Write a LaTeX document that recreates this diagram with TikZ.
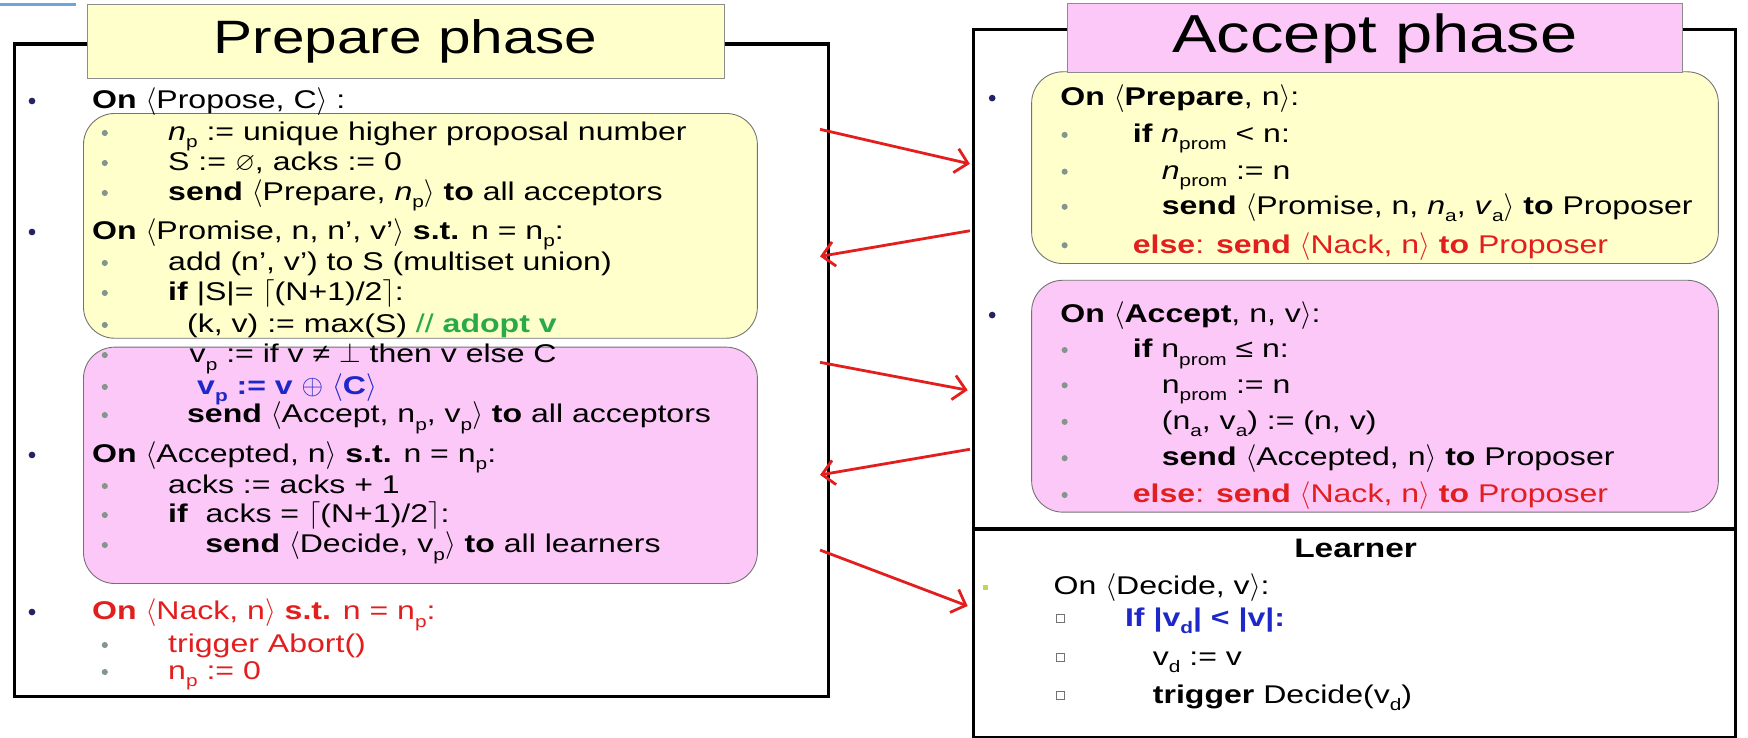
\documentclass[tikz,border=0pt]{standalone}
\usepackage{fontspec}
\setmainfont{Liberation Sans}[FakeStretch=1.25]
\usepackage{amssymb}
\usepackage{graphicx}
\usetikzlibrary{arrows.meta}
\definecolor{ylw}{RGB}{255,255,204}
\definecolor{pnk}{RGB}{252,200,248}
\definecolor{rd}{RGB}{226,30,30}
\definecolor{grn}{RGB}{40,170,70}
\definecolor{blu}{RGB}{30,40,200}
\definecolor{navy}{RGB}{35,35,100}
\definecolor{gbul}{RGB}{130,150,140}
\definecolor{topblue}{RGB}{110,165,220}
\newcommand{\la}{\smash{\ensuremath{\langle}}}
\newcommand{\ra}{\smash{\ensuremath{\rangle}}}
\newcommand{\lcl}{\smash{\ensuremath{\lceil}}}
\newcommand{\rcl}{\smash{\ensuremath{\rceil}}}
\newcommand{\lo}[1]{\smash{\raisebox{-0.28em}{\scalebox{0.65}{#1}}}}
\begin{document}
\begin{tikzpicture}[x=1pt,y=-1pt,
  outerbox/.style={draw=black,line width=3pt,anchor=north west,inner sep=0pt},
  titlebox/.style={draw=black!45,line width=0.8pt,inner sep=0pt,anchor=north west},
  rbox/.style={draw=black!55,line width=0.8pt,rounded corners=28pt,anchor=north west,inner sep=0pt},
  ltxt/.style={anchor=base west,inner sep=0pt,font=\fontsize{23}{26}\selectfont},
  rtxt/.style={anchor=base west,inner sep=0pt,font=\fontsize{23}{27}\selectfont},
  navybul/.style={circle,fill=navy,inner sep=0pt,minimum size=6pt},
  graybul/.style={circle,fill=gbul,inner sep=0pt,minimum size=5.5pt},
  sqbul/.style={draw=black!55,fill=white,inner sep=0pt,minimum size=7pt,line width=0.7pt},
  msg/.style={draw=rd,line width=2.5pt,-{Straight Barb[length=11pt,width=22pt]}}
]
\useasboundingbox (0,0) rectangle (1568,662);
\fill[white] (0,0) rectangle (1568,662);
\draw[topblue,line width=2.5pt] (0,4) -- (68,4);

% ---------- Left panel (Prepare phase) ----------
\node[outerbox,minimum width=729.9pt,minimum height=585pt] (prep) at (11.7,38) {};
\node[rbox,fill=ylw,minimum width=604.5pt,minimum height=201.6pt] (ly) at (74.5,101.4) {};
\node[rbox,fill=pnk,minimum width=604.5pt,minimum height=212pt] (lp) at (74.5,311) {};
\node[titlebox,fill=ylw,minimum width=571pt,minimum height=66pt,
      font=\fontsize{42}{46}\selectfont] (ptitle) at (78,4) {Prepare phase};

\node[ltxt] (l1) at (82.5,97.6) {\textbf{On} \la Propose, C\ra\ :};
\node[ltxt] (l2) at (150.7,126.3) {\textit{n}\lo{p} := unique higher proposal number};
\node[ltxt] (l3) at (150.7,153.2) {S := $\varnothing$, acks := 0};
\node[ltxt] (l4) at (150.7,180.1) {\textbf{send} \la Prepare, \textit{n}\lo{p}\ra\ \textbf{to} all acceptors};
\node[ltxt] (l5) at (82.5,215.1) {\textbf{On} \la Promise, n, n’, v’\ra\ \textbf{s.t.} n = n\lo{p}:};
\node[ltxt] (l6) at (150.7,242.9) {add (n’, v’) to S (multiset union)};
\node[ltxt] (l7) at (150.7,269.8) {\textbf{if} |S|= \lcl(N+1)/2\rcl:};
\node[ltxt] (l8) at (167.7,298.5) {(k, v) := max(S) \textcolor{grn}{// \textbf{adopt v}}};
\node[ltxt] (l9) at (170,325.5) {v\lo{p} := if v ≠ $\perp$ then v else C};
\node[ltxt,text=blu] (l10) at (176.7,354.1) {\textbf{v\lo{p} := v} $\oplus$ \la\textbf{C}\ra};
\node[ltxt] (l11) at (167.7,379.3) {\textbf{send} \la Accept, n\lo{p}, v\lo{p}\ra\ \textbf{to} all acceptors};
\node[ltxt] (l12) at (82.5,415.1) {\textbf{On} \la Accepted, n\ra\ \textbf{s.t.} n = n\lo{p}:};
\node[ltxt] (l13) at (150.7,443) {acks := acks + 1};
\node[ltxt] (l14) at (150.7,469) {\textbf{if}\ \ acks = \lcl(N+1)/2\rcl:};
\node[ltxt] (l15) at (184,495.9) {\textbf{send} \la Decide, v\lo{p}\ra\ \textbf{to} all learners};
\node[ltxt,text=rd] (l16) at (82.5,556) {\textbf{On} \la Nack, n\ra\ \textbf{s.t.} n = n\lo{p}:};
\node[ltxt,text=rd] (l17) at (150.7,585.6) {trigger Abort()};
\node[ltxt,text=rd] (l18) at (150.7,609.8) {n\lo{p} := 0};

\foreach \y/\n in {90.6/1,208.1/5,408.1/12,549/16}
  \node[navybul] (lnb\n) at (28.7,\y) {};
\foreach \y/\n in {119.3/2,146.2/3,173.1/4,235.9/6,262.8/7,291.5/8,318.5/9,347.1/10,372.3/11,436/13,462/14,488.9/15,578.6/17,602.8/18}
  \node[graybul] (lgb\n) at (94,\y) {};

% ---------- Right panel (Accept phase) ----------
\node[outerbox,minimum width=683pt,minimum height=448pt] (acc) at (872,25) {};
\node[outerbox,minimum width=683pt,minimum height=187pt] (learn) at (872,473) {};
\node[rbox,fill=ylw,minimum width=616pt,minimum height=172pt] (ry) at (925,64) {};
\node[rbox,fill=pnk,minimum width=616pt,minimum height=208pt] (rp) at (925,251) {};
\node[titlebox,fill=pnk,minimum width=552pt,minimum height=62pt,
      font=\fontsize{48}{52}\selectfont] (atitle) at (957,3) {Accept phase};

\node[rtxt] (r1) at (951,95) {\textbf{On} \la\textbf{Prepare}, n\ra:};
\node[rtxt] (r2) at (1016,128) {\textbf{if} \textit{n}\lo{prom} < n:};
\node[rtxt] (r3) at (1042,161) {\textit{n}\lo{prom} := n};
\node[rtxt] (r4) at (1042,192.5) {\textbf{send} \la Promise, n, \textit{n}\lo{a}, \textit{v}\lo{a}\ra\ \textbf{to} Proposer};
\node[rtxt,text=rd] (r5) at (1016,227) {\textbf{else}: \textbf{send} \la Nack, n\ra\ \textbf{to} Proposer};
\node[rtxt] (r6) at (951,289.6) {\textbf{On} \la\textbf{Accept}, n, v\ra:};
\node[rtxt] (r7) at (1016,321) {\textbf{if} n\lo{prom} ≤ n:};
\node[rtxt] (r8) at (1042,352.6) {n\lo{prom} := n};
\node[rtxt] (r9) at (1042,385.4) {(n\lo{a}, v\lo{a}) := (n, v)};
\node[rtxt] (r10) at (1042,418) {\textbf{send} \la Accepted, n\ra\ \textbf{to} Proposer};
\node[rtxt,text=rd] (r11) at (1016,451) {\textbf{else}: \textbf{send} \la Nack, n\ra\ \textbf{to} Proposer};

\node[rtxt,anchor=base,font=\fontsize{24}{28}\selectfont] (ltitle) at (1216,500) {\textbf{Learner}};
\node[rtxt] (r12) at (945,533) {On \la Decide, v\ra:};
\node[rtxt,text=blu] (r13) at (1009,562) {\textbf{If |v\lo{d}| < |v|:}};
\node[rtxt] (r14) at (1034,597) {v\lo{d} := v};
\node[rtxt] (r15) at (1034,631) {\textbf{trigger} Decide(v\lo{d})};

\foreach \y/\n in {88/1,282.6/6}
  \node[navybul] (rnb\n) at (890,\y) {};
\foreach \y/\n in {121/2,154/3,185.5/4,220/5,314/7,345.6/8,378.4/9,411/10,444/11}
  \node[graybul] (rgb\n) at (955,\y) {};
\node[fill={rgb,255:red,200;green,210;blue,90},inner sep=0pt,minimum size=5pt] (lsq) at (884,527) {};
\foreach \y/\n in {555/13,590/14,624/15}
  \node[sqbul] (rsq\n) at (951,\y) {};

% ---------- Messages ----------
\coordinate (a1s) at (735.6,116);   \coordinate (a1e) at (870,147);
\coordinate (a2s) at (870,207);     \coordinate (a2e) at (735.6,230);
\coordinate (a3s) at (735.6,325);   \coordinate (a3e) at (868,350);
\coordinate (a4s) at (870,403);     \coordinate (a4e) at (735.6,426);
\coordinate (a5s) at (735.6,493.4); \coordinate (a5e) at (868,543.6);
\draw[msg] (a1s) -- (a1e);
\draw[msg] (a2s) -- (a2e);
\draw[msg] (a3s) -- (a3e);
\draw[msg] (a4s) -- (a4e);
\draw[msg] (a5s) -- (a5e);
\end{tikzpicture}
\end{document}
